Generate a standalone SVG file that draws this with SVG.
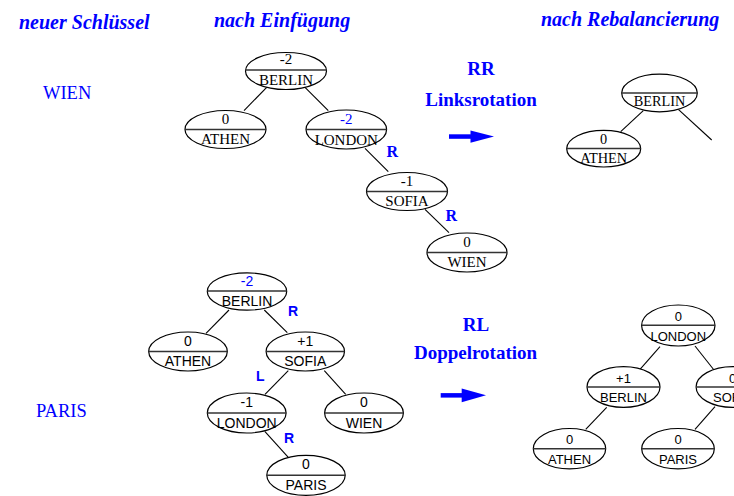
<svg xmlns="http://www.w3.org/2000/svg" width="734" height="496" viewBox="0 0 734 496">
<style>
.bg{fill:#fff}
.ell{fill:#fff;stroke:#000;stroke-width:1.2}
.div{stroke:#333;stroke-width:1.4}
.edge{stroke:#000;stroke-width:1.1;fill:none}
.serif{font-family:"Liberation Serif","Times New Roman",serif;fill:#000;text-anchor:middle}
.sans{font-family:"Liberation Sans",Arial,sans-serif;fill:#000;text-anchor:middle}
.ts{font-size:15px}
.trs{font-size:14.3px}
.bl{font-size:14px}
.br{font-size:13px}
.blue{fill:#0000ff}
.head{font-family:"Liberation Serif","Times New Roman",serif;font-size:20px;font-weight:bold;font-style:italic;fill:#0000ff}
.op{font-family:"Liberation Serif","Times New Roman",serif;font-size:19px;font-weight:bold;fill:#0000ff;text-anchor:middle}
.key{font-family:"Liberation Serif","Times New Roman",serif;font-size:18.5px;fill:#0000ff}
.lblT{font-family:"Liberation Serif","Times New Roman",serif;font-size:16px;font-weight:bold;fill:#0000ff}
.lblB{font-family:"Liberation Sans",Arial,sans-serif;font-size:14px;font-weight:bold;fill:#0000ff}
.arrow{fill:#0000ff}
</style>
<rect class="bg" x="0" y="0" width="734" height="496"/>

<g id="headings">
<text class="head" x="19" y="29">neuer Schlüssel</text>
<text class="head" x="214" y="27">nach Einfügung</text>
<text class="head" x="541" y="26">nach Rebalancierung</text>
<text class="key" x="43" y="99">WIEN</text>
<text class="key" x="36" y="417">PARIS</text>
<text class="op" x="481" y="75">RR</text>
<text class="op" x="481" y="106">Linksrotation</text>
<text class="op" x="476" y="331">RL</text>
<text class="op" x="475.5" y="359">Doppelrotation</text>
</g>

<g id="arrows">
<rect class="arrow" x="449" y="134.3" width="23" height="4.5"/>
<polygon class="arrow" points="470.5,130.5 494,136.5 470.5,142.8"/>
<rect class="arrow" x="440.7" y="393.1" width="23" height="4.5"/>
<polygon class="arrow" points="461.7,388.5 486,395.3 461.7,402.2"/>
</g>

<g id="connectors">
<line class="edge" x1="266.7" y1="87.3" x2="244" y2="110.7"/>
<line class="edge" x1="305" y1="87.3" x2="328.3" y2="110.7"/>
<line class="edge" x1="365" y1="148.3" x2="388.3" y2="171.7"/>
<line class="edge" x1="425" y1="209.3" x2="449" y2="232.7"/>
<line class="edge" x1="643.3" y1="110.7" x2="620.7" y2="131.7"/>
<line class="edge" x1="678.3" y1="109.3" x2="711.7" y2="140"/>
<line class="edge" x1="229" y1="310" x2="206" y2="333.3"/>
<line class="edge" x1="264.3" y1="310" x2="287.3" y2="332.7"/>
<line class="edge" x1="288.3" y1="370.7" x2="265" y2="394.3"/>
<line class="edge" x1="324.3" y1="370.7" x2="345.7" y2="394.3"/>
<line class="edge" x1="265" y1="431.7" x2="288.3" y2="457.3"/>
<line class="edge" x1="660" y1="346.7" x2="640" y2="369.3"/>
<line class="edge" x1="695" y1="346" x2="714" y2="370"/>
<line class="edge" x1="606.7" y1="407.3" x2="585.7" y2="429.3"/>
<line class="edge" x1="715" y1="406.7" x2="695" y2="429.3"/>
<text class="lblT" x="386.5" y="157">R</text>
<text class="lblT" x="445.5" y="221">R</text>
<text class="lblB" x="288" y="316">R</text>
<text class="lblB" x="256" y="381">L</text>
<text class="lblB" x="284" y="443">R</text>
</g>

<!-- top-left tree (serif) -->
<g id="t1-berlin"><ellipse class="ell" cx="286" cy="71" rx="40.5" ry="18.5"/><line class="div" x1="245.5" y1="70" x2="326.5" y2="70"/><text class="serif ts" x="286" y="64">-2</text><text class="serif ts" x="286" y="84.5">BERLIN</text></g>
<g id="t1-athen"><ellipse class="ell" cx="225.5" cy="129.5" rx="40.5" ry="19"/><line class="div" x1="185" y1="129.5" x2="266" y2="129.5"/><text class="serif ts" x="225.5" y="123.5">0</text><text class="serif ts" x="225.5" y="144">ATHEN</text></g>
<g id="t1-london"><ellipse class="ell" cx="346.3" cy="129.5" rx="40.3" ry="19.5"/><line class="div" x1="306" y1="129.5" x2="386.6" y2="129.5"/><text class="serif ts blue" x="346.3" y="123.5">-2</text><text class="serif ts" x="346.3" y="144.5">LONDON</text></g>
<g id="t1-sofia"><ellipse class="ell" cx="407" cy="191.5" rx="40.5" ry="19"/><line class="div" x1="366.5" y1="191.5" x2="447.5" y2="191.5"/><text class="serif ts" x="407" y="185.5">-1</text><text class="serif ts" x="407" y="206">SOFIA</text></g>
<g id="t1-wien"><ellipse class="ell" cx="467" cy="252.5" rx="40" ry="19.5"/><line class="div" x1="427" y1="252.5" x2="507" y2="252.5"/><text class="serif ts" x="467" y="246.5">0</text><text class="serif ts" x="467" y="267">WIEN</text></g>

<!-- top-right tree (serif) -->
<g id="t2-berlin"><ellipse class="ell" cx="659.5" cy="93" rx="37.8" ry="18.8"/><line class="div" x1="621.7" y1="93" x2="697.3" y2="93"/><text class="serif trs" x="659.5" y="106">BERLIN</text></g>
<g id="t2-athen"><ellipse class="ell" cx="603.7" cy="148.7" rx="37" ry="18.3"/><line class="div" x1="566.7" y1="148.5" x2="640.7" y2="148.5"/><text class="serif trs" x="603.7" y="143.8">0</text><text class="serif trs" x="603.7" y="163.3">ATHEN</text></g>

<!-- bottom-left tree (sans) -->
<g id="b1-berlin"><ellipse class="ell" cx="247" cy="291.5" rx="39.7" ry="18.7"/><line class="div" x1="207.3" y1="291" x2="286.7" y2="291"/><text class="sans bl blue" x="247" y="285.5">-2</text><text class="sans bl" x="247" y="305.5">BERLIN</text></g>
<g id="b1-athen"><ellipse class="ell" cx="188" cy="351.5" rx="39.3" ry="19.5"/><line class="div" x1="148.7" y1="351.5" x2="227.3" y2="351.5"/><text class="sans bl" x="188" y="345.8">0</text><text class="sans bl" x="188" y="366">ATHEN</text></g>
<g id="b1-sofia"><ellipse class="ell" cx="305.3" cy="351.5" rx="39.2" ry="19.5"/><line class="div" x1="266.1" y1="351.5" x2="344.5" y2="351.5"/><text class="sans bl" x="305.3" y="345.8">+1</text><text class="sans bl" x="305.3" y="366.3">SOFIA</text></g>
<g id="b1-london"><ellipse class="ell" cx="246.7" cy="413" rx="39.4" ry="20"/><line class="div" x1="207.3" y1="413" x2="286.1" y2="413"/><text class="sans bl" x="246.7" y="407">-1</text><text class="sans bl" x="246.7" y="427.5">LONDON</text></g>
<g id="b1-wien"><ellipse class="ell" cx="364" cy="413" rx="39.4" ry="20"/><line class="div" x1="324.6" y1="413" x2="403.4" y2="413"/><text class="sans bl" x="364" y="407">0</text><text class="sans bl" x="364" y="427.5">WIEN</text></g>
<g id="b1-paris"><ellipse class="ell" cx="306" cy="475.3" rx="39.2" ry="20"/><line class="div" x1="266.8" y1="475.3" x2="345.2" y2="475.3"/><text class="sans bl" x="306" y="469.3">0</text><text class="sans bl" x="306" y="489.8">PARIS</text></g>

<!-- bottom-right tree (sans) -->
<g id="b2-london"><ellipse class="ell" cx="678.3" cy="325.5" rx="36.7" ry="20.5"/><line class="div" x1="641.6" y1="325.3" x2="715" y2="325.3"/><text class="sans br" x="678.3" y="321">0</text><text class="sans br" x="678.3" y="340.5">LONDON</text></g>
<g id="b2-berlin"><ellipse class="ell" cx="623.5" cy="387" rx="36.5" ry="20.3"/><line class="div" x1="587" y1="387" x2="660" y2="387"/><text class="sans br" x="623.5" y="382.5">+1</text><text class="sans br" x="623.5" y="402">BERLIN</text></g>
<g id="b2-sofia"><ellipse class="ell" cx="732.6" cy="387" rx="36.5" ry="20.3"/><line class="div" x1="696.1" y1="387" x2="769.1" y2="387"/><text class="sans br" x="732.6" y="382.5">0</text><text class="sans br" x="732.6" y="402">SOFIA</text></g>
<g id="b2-athen"><ellipse class="ell" cx="569.5" cy="448.7" rx="36.2" ry="20.2"/><line class="div" x1="533.3" y1="448.7" x2="605.7" y2="448.7"/><text class="sans br" x="569.5" y="444">0</text><text class="sans br" x="569.5" y="463.7">ATHEN</text></g>
<g id="b2-paris"><ellipse class="ell" cx="678" cy="448.7" rx="36.3" ry="20.2"/><line class="div" x1="641.7" y1="448.7" x2="714.3" y2="448.7"/><text class="sans br" x="678" y="444">0</text><text class="sans br" x="678" y="463.7">PARIS</text></g>
</svg>
